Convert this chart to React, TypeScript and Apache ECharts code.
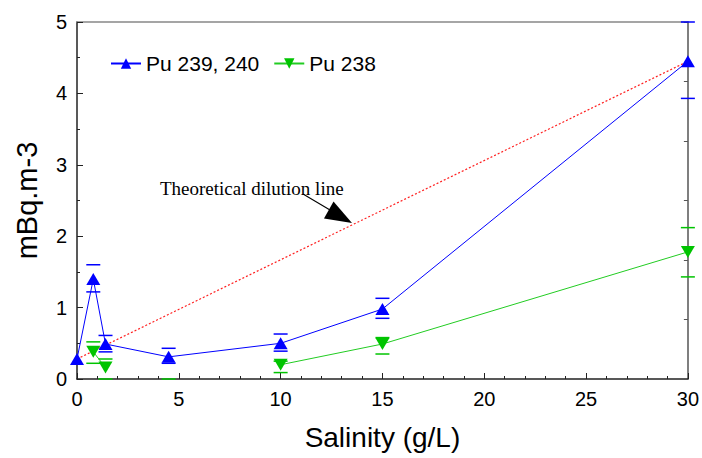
import React, { useEffect, useRef } from "react";
import * as echarts from "echarts";

// Pu 239, 240
const salinityPu239 = [0, 0.8, 1.4, 4.5, 10, 15, 30];
const pu239 = [0.28, 1.4, 0.49, 0.31, 0.5, 0.98, 4.45];
const pu239High: (number | null)[] = [null, 1.6, 0.61, 0.43, 0.63, 1.13, 5.0];
const pu239Low: (number | null)[] = [null, 1.22, 0.38, 0.22, 0.39, 0.85, 3.93];

// Pu 238
const salinityPu238 = [0.8, 1.4, 4.5, 10, 15, 30];
const pu238: (number | null)[] = [0.38, 0.16, null, 0.2, 0.49, 1.78];
const pu238High: (number | null)[] = [0.52, 0.28, 0.0, 0.25, 0.58, 2.12];
const pu238Low: (number | null)[] = [0.22, 0.0, null, 0.09, 0.35, 1.43];

// Theoretical dilution line endpoints
const dilutionX = [0, 30];
const dilutionY = [0.28, 4.45];

const xTicks = [0, 5, 10, 15, 20, 25, 30];
const yTicks = [0, 1, 2, 3, 4, 5];

const BLUE = "#0000ff";
const GREEN = "#00c400";
const FONT = "'Liberation Sans', Arial, sans-serif";

function errorSeries(xs: number[], lows: (number | null)[], highs: (number | null)[], color: string) {
  return {
    type: "custom",
    silent: true,
    clip: false,
    z: 3,
    data: xs.map((x, i) => [x, lows[i] ?? 0, highs[i] ?? 0]),
    encode: { x: 0, y: [1, 2] },
    renderItem: (params: any, api: any) => {
      const i = params.dataIndex;
      const x = xs[i];
      const children: any[] = [];
      const w = 7;
      [highs[i], lows[i]].forEach((v) => {
        if (v === null || v === undefined) return;
        const p = api.coord([x, v]);
        children.push({
          type: "line",
          shape: { x1: p[0] - w, y1: p[1], x2: p[0] + w, y2: p[1] },
          style: { stroke: color, lineWidth: 1.5 },
        });
      });
      return { type: "group", children };
    },
  };
}

export default function App() {
  const ref = useRef<HTMLDivElement>(null);
  useEffect(() => {
    if (!ref.current) return;
    const chart = echarts.init(ref.current, null, { renderer: "svg" });
    chart.setOption({
      animation: false,
      backgroundColor: "#ffffff",
      grid: { left: 77, right: 11, top: 22, bottom: 79, containLabel: false },
      legend: {
        left: 105,
        top: 48,
        itemWidth: 30,
        itemHeight: 13,
        itemGap: 14,
        data: ["Pu 239, 240", "Pu 238"],
        textStyle: { fontSize: 21, color: "#000", fontFamily: FONT },
      },
      xAxis: [
        {
          type: "value",
          min: xTicks[0],
          max: xTicks[xTicks.length - 1],
          interval: 5,
          name: "Salinity (g/L)",
          nameLocation: "middle",
          nameGap: 44,
          nameTextStyle: { fontSize: 28, color: "#000", fontFamily: FONT },
          axisLine: { show: true, lineStyle: { color: "#222", width: 1.5 } },
          axisTick: { show: true, inside: true, length: 6, lineStyle: { color: "#222" } },
          minorTick: { show: true, splitNumber: 5, length: 3, lineStyle: { color: "#222" } },
          axisLabel: { fontSize: 20, color: "#000", margin: 10, fontFamily: FONT },
          splitLine: { show: false },
        },
        {
          type: "value",
          position: "top",
          min: 0,
          max: 30,
          axisLine: { show: true, onZero: false, lineStyle: { color: "#888", width: 1.5 } },
          axisTick: { show: false },
          axisLabel: { show: false },
          splitLine: { show: false },
        },
      ],
      yAxis: [
        {
          type: "value",
          min: yTicks[0],
          max: yTicks[yTicks.length - 1],
          interval: 1,
          name: "mBq.m-3",
          nameLocation: "middle",
          nameGap: 36,
          nameTextStyle: { fontSize: 29, color: "#000", fontFamily: FONT },
          axisLine: { show: true, lineStyle: { color: "#222", width: 1.5 } },
          axisTick: { show: true, inside: true, length: 6, lineStyle: { color: "#222" } },
          minorTick: { show: true, splitNumber: 2, length: 3, lineStyle: { color: "#222" } },
          axisLabel: { fontSize: 20, color: "#000", margin: 10, fontFamily: FONT },
          splitLine: { show: false },
        },
        {
          type: "value",
          position: "right",
          min: 0,
          max: 6,
          interval: 1,
          axisLine: { show: true, onZero: false, lineStyle: { color: "#555", width: 1.5 } },
          axisTick: { show: true, inside: true, length: 4, lineStyle: { color: "#555" } },
          axisLabel: { show: false },
          splitLine: { show: false },
        },
      ],
      series: [
        {
          name: "Theoretical dilution",
          type: "line",
          data: dilutionX.map((x, i) => [x, dilutionY[i]]),
          showSymbol: false,
          symbol: "none",
          lineStyle: { color: "#ff2020", width: 1.2, type: [2, 2] },
          z: 1,
        },
        errorSeries(salinityPu239, pu239Low, pu239High, BLUE),
        errorSeries(salinityPu238, pu238Low, pu238High, GREEN),
        {
          name: "Pu 239, 240",
          type: "line",
          data: salinityPu239.map((x, i) => [x, pu239[i]]),
          symbol: "triangle",
          symbolSize: [14, 12],
          itemStyle: { color: BLUE },
          lineStyle: { color: BLUE, width: 1 },
          z: 5,
        },
        {
          name: "Pu 238",
          type: "line",
          data: salinityPu238.map((x, i) => [x, pu238[i]]),
          connectNulls: false,
          symbol: "triangle",
          symbolRotate: 180,
          symbolSize: [14, 12],
          itemStyle: { color: GREEN },
          lineStyle: { color: "#22cc22", width: 1 },
          z: 4,
        },
      ],
      graphic: [
        {
          type: "text",
          left: 160,
          top: 179,
          style: {
            text: "Theoretical dilution line",
            fontFamily: "'Liberation Serif', 'Times New Roman', serif",
            fontSize: 19,
            fill: "#000",
          },
          z: 10,
        },
        {
          type: "line",
          shape: { x1: 303, y1: 194, x2: 330, y2: 210 },
          style: { stroke: "#000", lineWidth: 1.2 },
          z: 10,
        },
        {
          type: "polygon",
          shape: { points: [[352, 223], [324, 218.5], [333.5, 201.5]] },
          style: { fill: "#000" },
          z: 10,
        },
      ],
    });
    return () => chart.dispose();
  }, []);
  return (
    <div
      ref={ref}
      style={{ position: "absolute", left: 0, top: 0, width: 702, height: 458, background: "#fff" }}
    />
  );
}
